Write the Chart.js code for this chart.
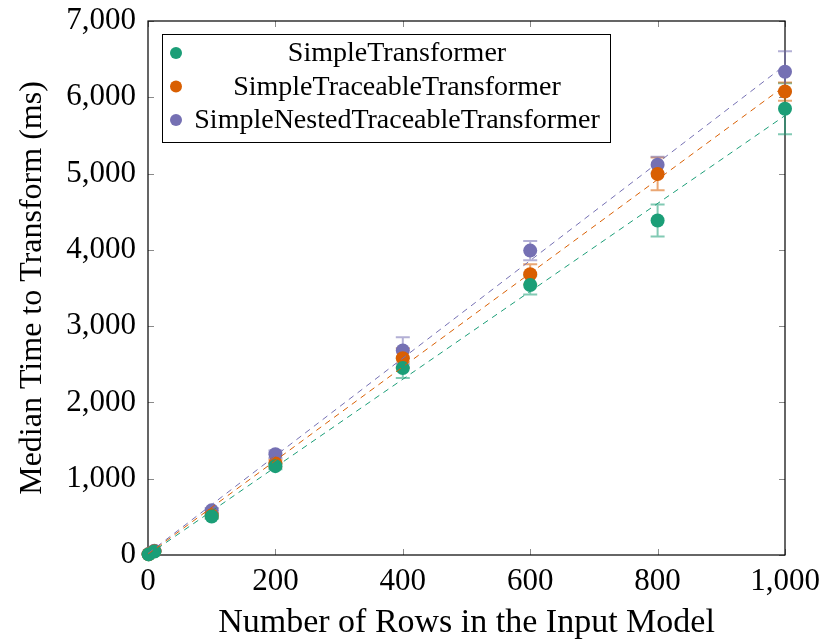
<!DOCTYPE html>
<html>
<head>
<meta charset="utf-8">
<script src="https://cdn.jsdelivr.net/npm/chart.js@4.4.1/dist/chart.umd.min.js"></script>
<style>
  html, body { margin: 0; padding: 0; background: #ffffff; }
  #wrap { width: 823px; height: 643px; }
</style>
</head>
<body>
<div id="wrap"><canvas id="chart" width="823" height="643"></canvas></div>
<script>
// input sizes (rows in the input model)
const rowCounts = [1, 10, 100, 200, 400, 600, 800, 1000];

// median times (ms)
const simpleMedian = [8, 45, 505, 1165, 2450, 3540, 4385, 5850];
const traceableMedian = [10, 50, 520, 1200, 2580, 3680, 4995, 6075];
const nestedMedian = [12, 55, 585, 1320, 2680, 3990, 5115, 6335];

// half-width of the error bars (ms)
const simpleErr = [5, 10, 30, 40, 130, 125, 210, 335];
const traceableErr = [5, 10, 30, 50, 130, 130, 215, 120];
const nestedErr = [5, 10, 30, 50, 175, 125, 105, 270];

// dashed trend lines, endpoints
const trendX = [0, 1000];
const simpleTrend = [0, 5760];
const traceableTrend = [10, 6150];
const nestedTrend = [20, 6420];

const labels = ["SimpleTransformer", "SimpleTraceableTransformer", "SimpleNestedTraceableTransformer"];
const colors = ["#1b9e77", "#d95f02", "#7570b3"];
const errColors = ["rgba(27,158,119,0.55)", "rgba(217,95,2,0.55)", "rgba(117,112,179,0.55)"];

const serif = "'Liberation Serif', 'DejaVu Serif', serif";

function pts(xs, ys) {
  return xs.map((x, i) => ({ x: x, y: ys[i] }));
}

const medians = [simpleMedian, traceableMedian, nestedMedian];
const errs = [simpleErr, traceableErr, nestedErr];
const trends = [simpleTrend, traceableTrend, nestedTrend];

let datasets = [];
// trend lines first so the markers sit on top
for (let i = 0; i < 3; i++) {
  datasets.push({
    type: "line",
    label: labels[i] + " trend",
    data: pts(trendX, trends[i]),
    borderColor: colors[i],
    borderWidth: 1,
    borderDash: [6, 5],
    pointRadius: 0,
    fill: false,
  });
}
for (let i = 0; i < 3; i++) {
  datasets.push({
    type: "scatter",
    label: labels[i],
    data: pts(rowCounts, medians[i]),
    backgroundColor: colors[i],
    borderWidth: 0,
    pointRadius: 7,
    pointHoverRadius: 7,
    clip: false,
  });
}

// error bars drawn under the markers
const errorBars = {
  id: "errorBars",
  beforeDatasetsDraw(chart) {
    const ctx = chart.ctx;
    const xs = chart.scales.x, ys = chart.scales.y;
    ctx.save();
    for (let i = 0; i < 3; i++) {
      ctx.strokeStyle = errColors[i];
      ctx.lineWidth = 2;
      for (let j = 0; j < rowCounts.length; j++) {
        const px = xs.getPixelForValue(rowCounts[j]);
        const lo = ys.getPixelForValue(medians[i][j] - errs[i][j]);
        const hi = ys.getPixelForValue(medians[i][j] + errs[i][j]);
        ctx.beginPath();
        ctx.moveTo(px, lo); ctx.lineTo(px, hi);
        ctx.moveTo(px - 7, lo); ctx.lineTo(px + 7, lo);
        ctx.moveTo(px - 7, hi); ctx.lineTo(px + 7, hi);
        ctx.stroke();
      }
    }
    ctx.restore();
  },
};

// box around the plot with inward ticks on all four sides
const frame = {
  id: "frame",
  beforeDatasetsDraw(chart) {
    const ctx = chart.ctx;
    const a = chart.chartArea;
    ctx.save();
    ctx.strokeStyle = "#8a8a8a";
    ctx.lineWidth = 1;
    ctx.beginPath();
    chart.scales.x.ticks.forEach((t) => {
      const px = Math.round(chart.scales.x.getPixelForValue(t.value)) + 0.5;
      ctx.moveTo(px, a.bottom); ctx.lineTo(px, a.bottom - 6);
      ctx.moveTo(px, a.top); ctx.lineTo(px, a.top + 6);
    });
    chart.scales.y.ticks.forEach((t) => {
      const py = Math.round(chart.scales.y.getPixelForValue(t.value)) + 0.5;
      ctx.moveTo(a.left, py); ctx.lineTo(a.left + 6, py);
      ctx.moveTo(a.right, py); ctx.lineTo(a.right - 6, py);
    });
    ctx.stroke();
    ctx.strokeStyle = "#000000";
    ctx.lineWidth = 1.2;
    ctx.strokeRect(a.left, a.top, a.right - a.left, a.bottom - a.top);
    ctx.restore();
  },
};

// legend box in the upper left of the plot
const legendBox = {
  id: "legendBox",
  afterDraw(chart) {
    const ctx = chart.ctx;
    const a = chart.chartArea;
    const bx = a.left + 14, by = a.top + 13, bw = 448, bh = 108;
    ctx.save();
    ctx.fillStyle = "#ffffff";
    ctx.fillRect(bx, by, bw, bh);
    ctx.strokeStyle = "#000000";
    ctx.lineWidth = 1;
    ctx.strokeRect(bx + 0.5, by + 0.5, bw, bh);
    ctx.font = "28px " + serif;
    ctx.textBaseline = "middle";
    ctx.textAlign = "center";
    for (let i = 0; i < 3; i++) {
      const cy = by + 19 + i * 33.5;
      ctx.fillStyle = colors[i];
      ctx.beginPath();
      ctx.arc(bx + 14, cy, 6, 0, Math.PI * 2);
      ctx.fill();
      ctx.fillStyle = "#000000";
      ctx.fillText(labels[i], bx + 235, cy + 1);
    }
    ctx.restore();
  },
};

const ctx = document.getElementById("chart").getContext("2d");
new Chart(ctx, {
  data: { datasets: datasets },
  plugins: [frame, errorBars, legendBox],
  options: {
    responsive: false,
    animation: false,
    events: [],
    layout: { padding: { left: 0, right: 38, top: 21, bottom: 0 } },
    plugins: {
      legend: { display: false },
      tooltip: { enabled: false },
    },
    scales: {
      x: {
        type: "linear",
        min: 0,
        max: 1000,
        grid: { display: false, drawTicks: false },
        border: { display: false },
        ticks: {
          stepSize: 200,
          color: "#000000",
          padding: 8,
          maxRotation: 0,
          font: { family: serif, size: 31 },
        },
        title: {
          display: true,
          text: "Number of Rows in the Input Model",
          color: "#000000",
          padding: { top: 0, bottom: 0 },
          font: { family: serif, size: 34 },
        },
        afterFit(scale) {
          scale.height = 88;
          scale.paddingLeft = 0;
          scale.paddingRight = 0;
        },
      },
      y: {
        type: "linear",
        min: 0,
        max: 7000,
        grid: { display: false, drawTicks: false },
        border: { display: false },
        ticks: {
          stepSize: 1000,
          color: "#000000",
          padding: 12,
          font: { family: serif, size: 31 },
        },
        title: {
          display: true,
          text: "Median Time to Transform (ms)",
          color: "#000000",
          padding: { top: 13, bottom: 0 },
          font: { family: serif, size: 32 },
        },
        afterFit(scale) {
          scale.width = 148;
          scale.paddingTop = 0;
          scale.paddingBottom = 0;
        },
      },
    },
  },
});
</script>
</body>
</html>
